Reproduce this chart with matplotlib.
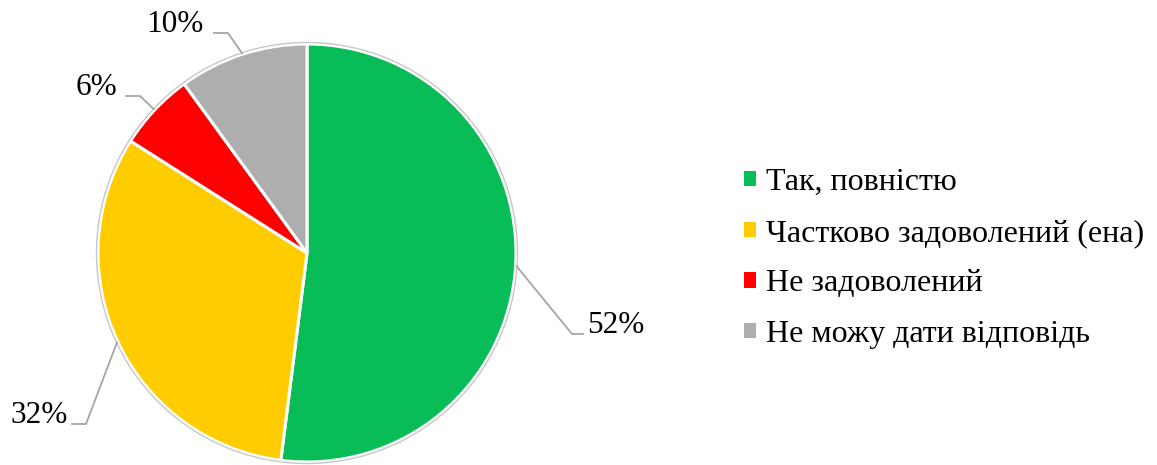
import numpy as np
import matplotlib
matplotlib.use("Agg")
import matplotlib.pyplot as plt
from matplotlib.patches import Circle

# Survey answers and their shares (%)
categories = ["Так, повністю", "Частково задоволений (ена)", "Не задоволений", "Не можу дати відповідь"]
shares = [52, 32, 6, 10]
colors = ["#08BC58", "#FFCC00", "#FF0000", "#AEAEAE"]

# label placement: (elbow x, elbow y, text x) in pixel units, y measured from the top
label_layout = [
    (572, 334, 587),   # 52%
    (86, 424, 68),     # 32%
    (140, 96, 117),    # 6%
    (228, 33, 204),    # 10%
]

W, H = 1157, 465
plt.rcParams["font.family"] = ["Liberation Serif", "DejaVu Serif"]

fig = plt.figure(figsize=(W / 100, H / 100), dpi=100)
ax = fig.add_axes([0, 0, 1, 1])

cx, cy, r = 307, H - 253, 209
wedges, _ = ax.pie(shares, colors=colors, startangle=90, counterclock=False,
                   center=(cx, cy), radius=r, frame=True,
                   wedgeprops=dict(edgecolor="white", linewidth=2.2))
ax.set_xlim(0, W)
ax.set_ylim(0, H)
ax.set_aspect("equal")
ax.axis("off")
ax.add_patch(Circle((cx, cy), r + 1.5, fill=False, edgecolor="#C8C8C8", linewidth=1.0))

# leader lines from the middle of each wedge's arc
line_col = "#A6A6A6"
for w, v, (ex, ey, tx) in zip(wedges, shares, label_layout):
    mid = np.deg2rad((w.theta1 + w.theta2) / 2)
    sx, sy = cx + (r + 1) * np.cos(mid), cy + (r + 1) * np.sin(mid)
    ey_up = H - ey
    right = sx > cx
    hx = ex + 11 if right else ex - 14
    ax.plot([sx, ex, hx], [sy, ey_up, ey_up], color=line_col, linewidth=1.3,
            solid_joinstyle="miter")
    ax.text(tx, ey_up + 1, f"{v}%", fontsize=22.5, color="black",
            ha="left" if right else "right", va="baseline")

leg = ax.legend(wedges, categories, loc="upper left", bbox_to_anchor=(744 / W, 1 - 168 / H),
                frameon=False, fontsize=23, handlelength=0.36, handleheight=0.36,
                handletextpad=0.33, labelspacing=0.68, borderaxespad=0, borderpad=0)
for h in leg.legend_handles:
    h.set_edgecolor("none")

fig.savefig("out.png", dpi=100)
